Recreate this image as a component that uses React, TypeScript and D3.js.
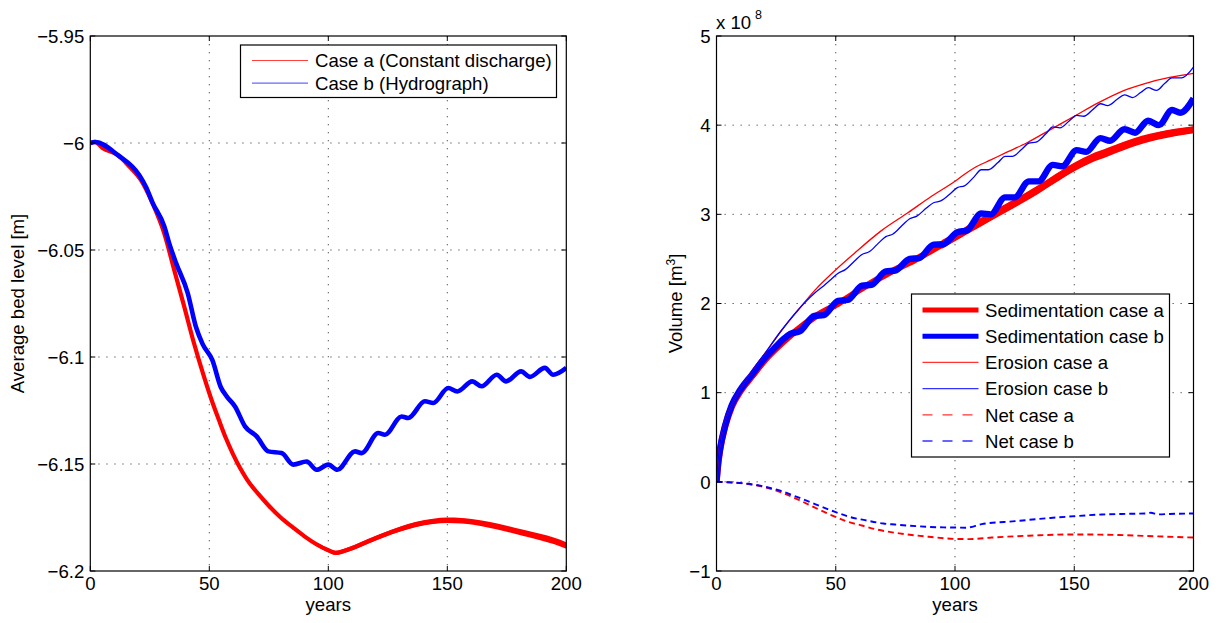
import React from 'react';
import * as d3 from 'd3';

// ---------- data ----------
const xTicks = [0, 50, 100, 150, 200];
const xTickLabels = ['0', '50', '100', '150', '200'];
const leftYTicks = [-5.95, -6, -6.05, -6.1, -6.15, -6.2];
const leftYTickLabels = ['−5.95', '−6', '−6.05', '−6.1', '−6.15', '−6.2'];
const rightYTicks = [-1, 0, 1, 2, 3, 4, 5];
const rightYTickLabels = ['−1', '0', '1', '2', '3', '4', '5'];

// Left: average bed level [m]
const caseAYears = [0, 2, 5, 11.6, 16, 21.3, 26.2, 31.1, 35.3, 39.5, 43.6, 47.8, 51, 54.1, 57, 60, 63, 66, 70.6, 75, 80, 85, 90, 95, 100, 103, 109, 116, 123, 130, 137, 144, 150, 156, 161, 168, 175, 182, 189, 195, 200];
const caseALevel = [-6.0, -5.9995, -6.0022, -6.0057, -6.0105, -6.0174, -6.0283, -6.0423, -6.0595, -6.0766, -6.0937, -6.1093, -6.1202, -6.1296, -6.138, -6.1455, -6.152, -6.1575, -6.164, -6.1695, -6.175, -6.1795, -6.1838, -6.1875, -6.1903, -6.1915, -6.1897, -6.1865, -6.1833, -6.1805, -6.1782, -6.1768, -6.1763, -6.1765, -6.1771, -6.1785, -6.1802, -6.1822, -6.1841, -6.186, -6.1881];

const caseBYears = [0, 2, 11.6, 20.6, 23.4, 26.2, 31.1, 33.2, 36.0, 40.9, 44.4, 47.2, 51.3, 54.8, 57.3, 60.8, 65.0, 69.9, 74.8, 80.4, 85.3, 90.9, 95.1, 100, 103.8, 111.2, 114.0, 121.0, 123.8, 130.8, 133.6, 140.6, 144.1, 150.4, 154.2, 160.5, 164.4, 170.8, 174.7, 181.0, 184.7, 191.0, 194.5, 200];
const caseBLevel = [-6.0, -5.9995, -6.0057, -6.0151, -6.0206, -6.028, -6.039, -6.047, -6.056, -6.07, -6.086, -6.094, -6.1015, -6.114, -6.1184, -6.1231, -6.1324, -6.1371, -6.1441, -6.1449, -6.1503, -6.1488, -6.1527, -6.1503, -6.1527, -6.1441, -6.1449, -6.1355, -6.1363, -6.1278, -6.1285, -6.1207, -6.1215, -6.1145, -6.1161, -6.1114, -6.1137, -6.1083, -6.1114, -6.1067, -6.1093, -6.1051, -6.1083, -6.1051];

// Right: volume [x 1e8 m3]
const sedAYears = [0, 0.7, 1.5, 3.6, 6.4, 9.9, 14.8, 20.3, 27.3, 32.9, 41.3, 51.1, 62.3, 73.5, 83.2, 94.4, 104.2, 112, 120, 128, 135, 142, 150.3, 157, 164.3, 171, 178.3, 185, 192.2, 200];
const sedAVolume = [0, 0.2, 0.356, 0.617, 0.842, 1.01, 1.18, 1.366, 1.553, 1.684, 1.852, 2.0, 2.19, 2.36, 2.49, 2.66, 2.81, 2.93, 3.05, 3.17, 3.28, 3.4, 3.535, 3.625, 3.7, 3.77, 3.835, 3.88, 3.917, 3.95];

const sedBYears = [0, 0.7, 1.5, 3.6, 6.4, 9.9, 14.8, 20.3, 25, 28, 31, 35, 41, 45, 51, 55, 61, 65, 71, 75, 81, 85, 91, 95, 101, 105, 111, 115, 121, 125, 131, 135, 141, 145, 151, 155, 161, 165, 171, 175.5, 181, 185.5, 191, 194.5, 200];
const sedBVolume = [0, 0.22, 0.37, 0.63, 0.86, 1.03, 1.2, 1.39, 1.52, 1.6, 1.66, 1.69, 1.86, 1.87, 2.03, 2.04, 2.2, 2.21, 2.36, 2.37, 2.5, 2.51, 2.66, 2.665, 2.8, 2.82, 3.01, 3.0, 3.19, 3.19, 3.37, 3.37, 3.555, 3.54, 3.72, 3.7, 3.855, 3.825, 3.955, 3.915, 4.05, 4.0, 4.17, 4.14, 4.3];

const eroAYears = [0, 0.7, 2.2, 4.5, 7.8, 13.3, 20.3, 27.3, 34.3, 41.3, 49.7, 58.1, 69.3, 80.4, 90, 100, 104, 108, 115, 122, 130, 140, 150, 160, 170, 180, 190, 200];
const eroAVolume = [0, 0.25, 0.54, 0.75, 0.94, 1.18, 1.44, 1.7, 1.93, 2.15, 2.37, 2.57, 2.82, 3.02, 3.2, 3.37, 3.45, 3.52, 3.61, 3.7, 3.8, 3.95, 4.1, 4.25, 4.38, 4.47, 4.535, 4.58];

const eroBYears = [0, 0.7, 2.2, 4.5, 7.8, 13.3, 20.3, 27.3, 34.3, 41.3, 45, 48, 51, 54, 58, 61, 64, 68, 71, 74, 78, 81, 84, 88, 91, 94, 98, 101, 104, 108, 111, 114, 118, 121, 124, 128, 131, 134, 138, 141, 144, 148, 151, 154, 158, 161, 164, 168, 171, 174.5, 178, 181, 184.5, 188, 191, 195, 200];
const eroBVolume = [0, 0.25, 0.54, 0.75, 0.94, 1.18, 1.44, 1.7, 1.93, 2.12, 2.2, 2.27, 2.34, 2.38, 2.48, 2.55, 2.58, 2.68, 2.75, 2.78, 2.88, 2.95, 2.98, 3.07, 3.13, 3.15, 3.23, 3.3, 3.32, 3.42, 3.5, 3.5, 3.58, 3.65, 3.65, 3.73, 3.8, 3.81, 3.9, 3.98, 3.97, 4.05, 4.11, 4.1, 4.18, 4.24, 4.22, 4.29, 4.34, 4.31, 4.37, 4.42, 4.39, 4.47, 4.53, 4.53, 4.65];

const netAYears = [0, 5, 13.3, 20.3, 27.3, 34.3, 41.3, 48.3, 55.3, 61, 66.5, 76.6, 89, 99.8, 106, 115.4, 130.9, 149.5, 166.6, 185.2, 200];
const netAVolume = [0, -0.005, -0.026, -0.06, -0.12, -0.2, -0.29, -0.375, -0.45, -0.49, -0.53, -0.578, -0.616, -0.64, -0.642, -0.625, -0.604, -0.59, -0.595, -0.612, -0.625];

const netBYears = [0, 5, 13.3, 20.3, 27.3, 34.3, 41.3, 49.7, 56, 62.3, 70, 74.8, 88.8, 95.2, 100, 104.5, 111.2, 125.2, 140, 150.3, 161.5, 170, 179.7, 182.1, 185.2, 190, 200];
const netBVolume = [0, -0.005, -0.022, -0.055, -0.105, -0.175, -0.25, -0.337, -0.395, -0.43, -0.468, -0.479, -0.505, -0.511, -0.512, -0.515, -0.475, -0.441, -0.405, -0.385, -0.366, -0.36, -0.355, -0.347, -0.365, -0.36, -0.355];

const leftLegendLabels = ['Case a (Constant discharge)', 'Case b (Hydrograph)'];
const rightLegendLabels = ['Sedimentation case a', 'Sedimentation case b', 'Erosion case a', 'Erosion case b', 'Net case a', 'Net case b'];

// ---------- layout ----------
const FONT = '"Liberation Sans", Arial, Helvetica, sans-serif';
const FS = 18.6;
const TOP = 36;
const BOTTOM = 571;
const RED = '#ff0000';
const BLUE = '#0000ff';

type P = [number, number];
const zip = (xs: number[], ys: number[]): P[] => xs.map((x, i) => [x, ys[i]] as P);

function Grid({ x, y, yTicks }: any) {
  const [x0, x1] = x.range();
  return (
    <g>
      {xTicks.slice(1, -1).map((t) => (
        <line key={'gx' + t} x1={x(t)} x2={x(t)} y1={TOP} y2={BOTTOM} stroke="#555" strokeWidth={1} strokeDasharray="1.3,6.7" />
      ))}
      {yTicks.map((t: number, i: number) =>
        i === 0 || i === yTicks.length - 1 ? null : (
          <line key={'gy' + t} x1={x0} x2={x1} y1={y(t)} y2={y(t)} stroke="#555" strokeWidth={1} strokeDasharray="1.3,6.7" />
        )
      )}
    </g>
  );
}

function Axes({ x, y, yTicks, yLabels }: any) {
  const [x0, x1] = x.range();
  const yTop = TOP, yBot = BOTTOM;
  const tl = 5;
  return (
    <g>
      <rect x={x0} y={yTop} width={x1 - x0} height={yBot - yTop} fill="none" stroke="#000" strokeWidth={1.2} />
      {xTicks.map((t) => (
        <g key={'xt' + t}>
          <line x1={x(t)} x2={x(t)} y1={yBot} y2={yBot - tl} stroke="#000" />
          <line x1={x(t)} x2={x(t)} y1={yTop} y2={yTop + tl} stroke="#000" />
        </g>
      ))}
      {yTicks.map((t: number) => (
        <g key={'yt' + t}>
          <line x1={x0} x2={x0 + tl} y1={y(t)} y2={y(t)} stroke="#000" />
          <line x1={x1} x2={x1 - tl} y1={y(t)} y2={y(t)} stroke="#000" />
        </g>
      ))}
      {xTicks.map((t, i) => (
        <text key={'xl' + t} x={x(t)} y={yBot + 19} textAnchor="middle" fontSize={FS} fontFamily={FONT}>{xTickLabels[i]}</text>
      ))}
      {yTicks.map((t: number, i: number) => (
        <text key={'yl' + t} x={x0 - 6} y={y(t) + 6.7} textAnchor="end" fontSize={FS} fontFamily={FONT}>{yLabels[i]}</text>
      ))}
      <text x={(x0 + x1) / 2} y={610.5} textAnchor="middle" fontSize={FS} fontFamily={FONT}>years</text>
    </g>
  );
}

export default function App() {
  const xL = d3.scaleLinear().domain([0, 200]).range([90.3, 566.3]);
  const yL = d3.scaleLinear().domain([-6.2, -5.95]).range([BOTTOM, TOP]);
  const xR = d3.scaleLinear().domain([0, 200]).range([716.5, 1193.5]);
  const yR = d3.scaleLinear().domain([-1, 5]).range([BOTTOM, TOP]);

  const lineL = d3.line<P>().x((d) => xL(d[0])).y((d) => yL(d[1])).curve(d3.curveMonotoneX);
  const lineR = d3.line<P>().x((d) => xR(d[0])).y((d) => yR(d[1])).curve(d3.curveMonotoneX);

  const caseA = zip(caseAYears, caseALevel);
  const caseB = zip(caseBYears, caseBLevel);
  // band mimicking the thickening of case a curve later in time
  const bandA = caseA.filter((d) => d[0] >= 95);
  const hw = (t: number) => 2.1 + Math.max(0, t - 100) / 100 * 1.2;
  const areaA = d3.area<P>().x((d) => xL(d[0])).y0((d) => yL(d[1]) + hw(d[0])).y1((d) => yL(d[1]) - hw(d[0])).curve(d3.curveMonotoneX);

  const sedA = zip(sedAYears, sedAVolume);
  const bandSed = sedA.filter((d) => d[0] >= 90);
  const hwS = (t: number) => (t < 170 ? 4.3 : 4.3 - (t - 170) / 30 * 0.8);
  const areaSed = d3.area<P>().x((d) => xR(d[0])).y0((d) => yR(d[1]) + hwS(d[0])).y1((d) => yR(d[1]) - hwS(d[0])).curve(d3.curveMonotoneX);

  const legL = { x: 240.5, y: 45, w: 316, h: 52.5 };
  const legR = { x: 911.5, y: 294, w: 258, h: 163 };
  const rightRows = [310, 336.2, 362.4, 388.6, 414.8, 441];
  const rightStyles = [
    { c: RED, w: 5, d: undefined },
    { c: BLUE, w: 5, d: undefined },
    { c: RED, w: 1.2, d: undefined },
    { c: BLUE, w: 1.2, d: undefined },
    { c: RED, w: 1.3, d: '10,10' },
    { c: BLUE, w: 1.3, d: '10,10' },
  ];

  return (
    <svg width={1221} height={623} style={{ position: 'absolute', left: 0, top: 0, background: '#fff' }}>
      <defs>
        <clipPath id="clipL"><rect x={90.3} y={TOP} width={476} height={BOTTOM - TOP} /></clipPath>
        <clipPath id="clipR"><rect x={716.5} y={TOP} width={477} height={BOTTOM - TOP} /></clipPath>
      </defs>
      <rect x={0} y={0} width={1221} height={623} fill="#fff" />

      {/* ---------- LEFT ---------- */}
      <Grid x={xL} y={yL} yTicks={leftYTicks} />
      <g clipPath="url(#clipL)">
        <path d={lineL(caseA) || ''} fill="none" stroke={RED} strokeWidth={4.2} strokeLinejoin="round" />
        <path d={areaA(bandA) || ''} fill={RED} stroke="none" />
        <path d={lineL(caseB) || ''} fill="none" stroke={BLUE} strokeWidth={4.6} strokeLinejoin="round" />
      </g>
      <Axes x={xL} y={yL} yTicks={leftYTicks} yLabels={leftYTickLabels} />
      <text transform="translate(24,303.5) rotate(-90)" textAnchor="middle" fontSize={FS} fontFamily={FONT}>Average bed level [m]</text>
      <rect x={legL.x} y={legL.y} width={legL.w} height={legL.h} fill="#fff" stroke="#000" strokeWidth={1.2} />
      {leftLegendLabels.map((lab, i) => {
        const cy = 60.5 + i * 22.6;
        return (
          <g key={lab}>
            <line x1={252} x2={308} y1={cy} y2={cy} stroke={i === 0 ? RED : BLUE} strokeWidth={1} strokeOpacity={0.75} />
            <text x={315} y={cy + 6.7} fontSize={FS} fontFamily={FONT}>{lab}</text>
          </g>
        );
      })}

      {/* ---------- RIGHT ---------- */}
      <Grid x={xR} y={yR} yTicks={rightYTicks} />
      <g clipPath="url(#clipR)">
        <path d={lineR(sedA) || ''} fill="none" stroke={RED} strokeWidth={6.5} strokeLinejoin="round" />
        <path d={areaSed(bandSed) || ''} fill={RED} stroke="none" />
        <path d={lineR(zip(sedBYears, sedBVolume)) || ''} fill="none" stroke={BLUE} strokeWidth={6.4} strokeLinejoin="round" />
        <path d={lineR(zip(eroAYears, eroAVolume)) || ''} fill="none" stroke={RED} strokeWidth={1.3} strokeLinejoin="round" />
        <path d={lineR(zip(eroBYears, eroBVolume)) || ''} fill="none" stroke={BLUE} strokeWidth={1.3} strokeLinejoin="round" />
        <path d={lineR(zip(netAYears, netAVolume)) || ''} fill="none" stroke={RED} strokeWidth={1.9} strokeDasharray="6,4" />
        <path d={lineR(zip(netBYears, netBVolume)) || ''} fill="none" stroke={BLUE} strokeWidth={1.9} strokeDasharray="6,4" />
      </g>
      <Axes x={xR} y={yR} yTicks={rightYTicks} yLabels={rightYTickLabels} />
      <text transform="translate(682,303.5) rotate(-90)" textAnchor="middle" fontSize={FS} fontFamily={FONT}>
        Volume [m<tspan dy={-7} fontSize={12}>3</tspan><tspan dy={7}>]</tspan>
      </text>
      <text x={716} y={29} fontSize={FS} fontFamily={FONT}>x 10</text>
      <text x={755} y={19} fontSize={12.5} fontFamily={FONT}>8</text>
      <rect x={legR.x} y={legR.y} width={legR.w} height={legR.h} fill="#fff" stroke="#000" strokeWidth={1.2} />
      {rightLegendLabels.map((lab, i) => {
        const cy = rightRows[i];
        const s = rightStyles[i];
        return (
          <g key={lab}>
            <line x1={922.5} x2={978.5} y1={cy} y2={cy} stroke={s.c} strokeWidth={s.w} strokeDasharray={s.d} strokeOpacity={s.w < 2 ? 0.8 : 1} />
            <text x={985} y={cy + 6.7} fontSize={FS} fontFamily={FONT}>{lab}</text>
          </g>
        );
      })}
    </svg>
  );
}
